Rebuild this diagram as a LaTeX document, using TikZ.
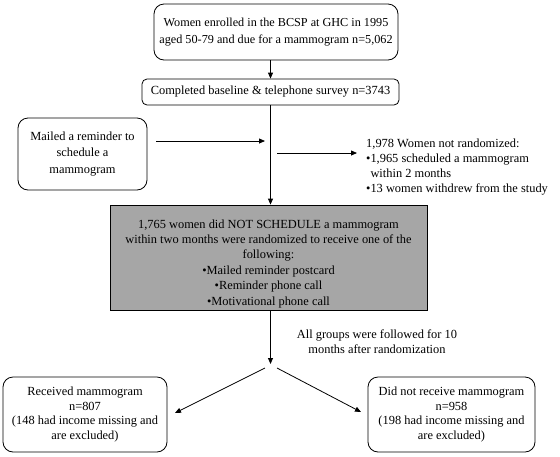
\documentclass[tikz,border=0pt]{standalone}
\usepackage{fontspec}
\setmainfont{Liberation Serif}
\usetikzlibrary{arrows.meta}
\definecolor{boxgray}{RGB}{166,166,166}
\begin{document}
\begin{tikzpicture}[x=1pt,y=-1pt,
  every node/.style={font=\fontsize{12.4}{14.8}\selectfont, text=black},
  rbox/.style={draw=black, line width=0.8pt, rounded corners=10pt, align=center, inner sep=2pt},
  sbox/.style={draw=black, line width=0.8pt, rounded corners=5pt, align=center, inner sep=2pt},
  gbox/.style={draw=black, line width=0.8pt, fill=boxgray, align=center, inner sep=2pt},
  plain/.style={align=left, inner sep=0pt},
  arr/.style={line width=0.8pt, -{Triangle[length=6pt,width=5pt]}}]
\useasboundingbox (0,0) rectangle (560,456);
\node[rbox, minimum width=244pt, minimum height=56pt, font=\fontsize{12.2}{17}\selectfont] (top) at (276,32)
  {Women enrolled in the BCSP at GHC in 1995\\aged 50-79 and due for a mammogram n=5,062};
\node[sbox, minimum width=257pt, minimum height=26pt] (survey) at (270.5,92)
  {Completed baseline \& telephone survey n=3743};
\node[rbox, minimum width=129pt, minimum height=72pt, font=\fontsize{12.4}{16.5}\selectfont] (mail) at (82.5,154)
  {Mailed a reminder to\\schedule a\\mammogram};
\node[plain, anchor=west, font=\fontsize{12.4}{15}\selectfont] (notrand) at (366,167)
  {1,978 Women not randomized:\\•1,965 scheduled a mammogram\\\phantom{•}within 2 months\\•13 women withdrew from the study};
\node[gbox, minimum width=317pt, minimum height=105pt, font=\fontsize{12.4}{15.4}\selectfont] (gray) at (268.5,257.5)
  {\rule{0pt}{21pt}1,765 women did NOT SCHEDULE a mammogram\\within two months were randomized to receive one of the\\following:\\•Mailed reminder postcard\\•Reminder phone call\\•Motivational phone call};
\node[align=center, inner sep=0pt] (follow) at (377,342)
  {All groups were followed for 10\\months after randomization};
\node[rbox, minimum width=164pt, minimum height=75pt] (recv) at (85,414.5)
  {Received mammogram\\n=807\\(148 had income missing and\\are excluded)};
\node[rbox, minimum width=167pt, minimum height=75pt] (norecv) at (451.5,414.5)
  {Did not receive mammogram\\n=958\\(198 had income missing and\\are excluded)};
\coordinate (a1s) at (156,141);
\coordinate (a1e) at (265,141);
\coordinate (a2s) at (277,153);
\coordinate (a2e) at (357,153);
\coordinate (split) at (270.5,364);
\coordinate (d1s) at (265,368);
\coordinate (d1e) at (175,413);
\coordinate (d2s) at (277,368);
\coordinate (d2e) at (361,412);
\draw[arr] (survey.north |- top.south) -- (survey.north);
\draw[arr] (survey.south) -- (survey.south |- gray.north);
\draw[arr] (a1s) -- (a1e);
\draw[arr] (a2s) -- (a2e);
\draw[arr] (survey.south |- gray.south) -- (split);
\draw[arr] (d1s) -- (d1e);
\draw[arr] (d2s) -- (d2e);
\end{tikzpicture}
\end{document}
